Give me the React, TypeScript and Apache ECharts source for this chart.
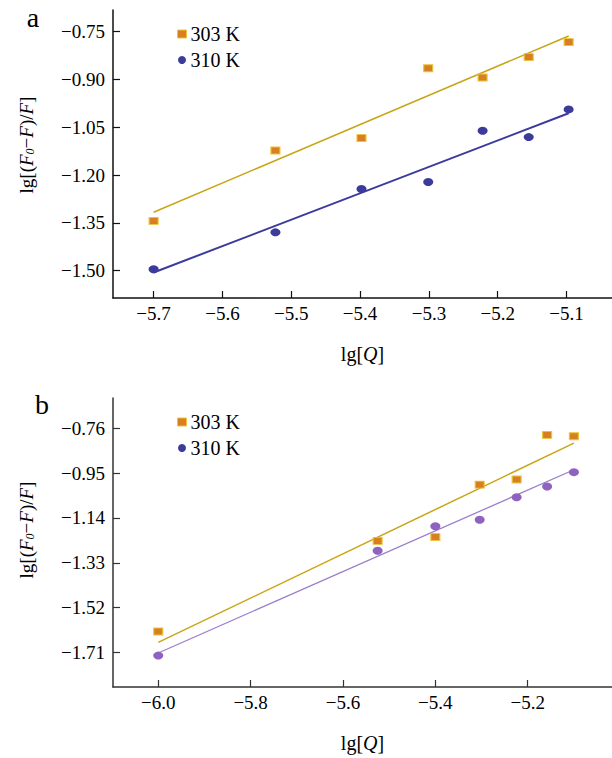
import React, { useEffect, useRef } from "react";
import * as echarts from "echarts";

// ---------- data ----------
const xA = [-5.7, -5.523, -5.398, -5.301, -5.222, -5.155, -5.097];
const yA303 = [-1.344, -1.123, -1.084, -0.865, -0.894, -0.83, -0.783];
const yA310 = [-1.496, -1.38, -1.244, -1.222, -1.061, -1.081, -0.994];
const fitA303 = [[-5.7, -1.317], [-5.097, -0.7635]];
const fitA310 = [[-5.7, -1.506], [-5.097, -1.006]];

const xB = [-6.0, -5.525, -5.4, -5.304, -5.224, -5.158, -5.1];
const yB303 = [-1.621, -1.237, -1.221, -0.999, -0.977, -0.788, -0.794];
const yB310 = [-1.723, -1.279, -1.175, -1.148, -1.052, -1.007, -0.946];
const fitB303 = [[-6.0, -1.667], [-5.1, -0.823]];
const fitB310 = [[-6.0, -1.712], [-5.1, -0.936]];

const xTicksA = [-5.7, -5.6, -5.5, -5.4, -5.3, -5.2, -5.1];
const yTicksA = [-0.75, -0.9, -1.05, -1.2, -1.35, -1.5];
const xTicksB = [-6.0, -5.8, -5.6, -5.4, -5.2];
const yTicksB = [-0.76, -0.95, -1.14, -1.33, -1.52, -1.71];

const legendNames = ["303 K", "310 K"];

const FONT = "'Liberation Serif', 'Times New Roman', serif";
const ORANGE = "#d8801f";
const ORANGE_BORDER = "#ecc33c";
const GOLD = "#c9a515";
const NAVY = "#3b3b9c";
const PURPLE = "#8f62c0";
const PURPLE_LINE = "#9c7fcc";

const zip = (xs: number[], ys: number[]) => xs.map((x, i) => [x, ys[i]]);
const fmt = (d: number) => (v: number) => (v < 0 ? "\u2212" : "") + Math.abs(v).toFixed(d);

function App() {
  const ref = useRef<HTMLDivElement>(null);
  useEffect(() => {
    if (!ref.current) return;
    const chart = echarts.init(ref.current, null, { renderer: "svg" });

    const xAxisBase = (axisColor: string, ticks: number[], dec: number) => ({
      type: "value" as const,
      nameLocation: "middle" as const,
      nameGap: 46,
      name: "lg[{q|Q}]",
      nameTextStyle: {
        fontFamily: FONT,
        fontSize: 20,
        color: "#000",
        rich: { q: { fontFamily: FONT, fontSize: 20, fontStyle: "italic", color: "#000" } },
      },
      splitLine: { show: false },
      axisLine: { show: true, onZero: false, lineStyle: { color: axisColor, width: 1.5 } },
      axisTick: { show: true, inside: true, length: 7, customValues: ticks, lineStyle: { color: axisColor, width: 1.2 } },
      axisLabel: {
        customValues: ticks,
        formatter: fmt(dec),
        fontFamily: FONT,
        fontSize: 19,
        color: "#000",
        margin: 6,
      },
    });

    const yAxisBase = (axisColor: string, ticks: number[]) => ({
      type: "value" as const,
      splitLine: { show: false },
      axisLine: { show: true, onZero: false, lineStyle: { color: axisColor, width: 1.5 } },
      axisTick: { show: true, inside: true, length: 7, customValues: ticks, lineStyle: { color: axisColor, width: 1.2 } },
      axisLabel: {
        customValues: ticks,
        formatter: fmt(2),
        fontFamily: FONT,
        fontSize: 19,
        color: "#000",
        margin: 8,
      },
    });

    const scatter = (name: string, idx: number, data: number[][], symbol: string, size: number[], color: string, border?: string) => ({
      name,
      type: "scatter" as const,
      xAxisIndex: idx,
      yAxisIndex: idx,
      data,
      symbol,
      symbolSize: size,
      z: 3,
      itemStyle: { color, borderColor: border || color, borderWidth: border ? 1 : 0, opacity: 1 },
    });

    const fitLine = (name: string, idx: number, data: number[][], color: string, width: number) => ({
      name,
      type: "line" as const,
      xAxisIndex: idx,
      yAxisIndex: idx,
      data,
      symbol: "none",
      showSymbol: false,
      z: 2,
      lineStyle: { color, width },
    });

    const yTitle = (x: number, y: number) => ({
      type: "text",
      x,
      y,
      rotation: Math.PI / 2,
      style: {
        text: "lg[({i|F}{s|0}\u2212{i|F})/{i|F}]",
        fontFamily: FONT,
        fontSize: 19,
        fill: "#000",
        align: "center",
        verticalAlign: "middle",
        rich: {
          i: { fontFamily: FONT, fontSize: 19, fontStyle: "italic", fill: "#000" },
          s: { fontFamily: FONT, fontSize: 12, fontStyle: "italic", fill: "#000", verticalAlign: "bottom", padding: [8, 0, 0, 0] },
        },
      },
    });

    const legend = (top: number, circleColor: string) => ({
      orient: "vertical" as const,
      left: 177,
      top,
      padding: 0,
      itemWidth: 9,
      itemHeight: 8,
      itemGap: 6,
      textStyle: { fontFamily: FONT, fontSize: 20, color: "#000", padding: [0, 0, 0, -1] },
      selectedMode: false,
      data: [
        { name: legendNames[0], icon: "rect", itemStyle: { color: ORANGE, borderColor: ORANGE_BORDER, borderWidth: 1 } },
        { name: legendNames[1], icon: "circle", itemStyle: { color: circleColor, borderWidth: 0 } },
      ],
    });

    chart.setOption({
      animation: false,
      backgroundColor: "#fff",
      grid: [
        { left: 113, right: 0, top: 10, height: 288 },
        { left: 113, right: 0, top: 398, height: 289 },
      ],
      xAxis: [
        { ...xAxisBase("#111", xTicksA, 1), gridIndex: 0, min: -5.759, max: -5.034 },
        { ...xAxisBase("#333", xTicksB, 1), gridIndex: 1, min: -6.098, max: -5.0175 },
      ],
      yAxis: [
        { ...yAxisBase("#111", yTicksA), gridIndex: 0, min: -1.586, max: -0.682 },
        { ...yAxisBase("#333", yTicksB), gridIndex: 1, min: -1.856, max: -0.632 },
      ],
      legend: [legend(24, NAVY), legend(412, NAVY)],
      series: [
        fitLine("303 K fit a", 0, fitA303, GOLD, 1.5),
        fitLine("310 K fit a", 0, fitA310, NAVY, 2),
        scatter(legendNames[0], 0, zip(xA, yA303), "rect", [9, 7], ORANGE, ORANGE_BORDER),
        scatter(legendNames[1], 0, zip(xA, yA310), "circle", [10, 8], NAVY),
        fitLine("303 K fit b", 1, fitB303, GOLD, 1.5),
        fitLine("310 K fit b", 1, fitB310, PURPLE_LINE, 1.3),
        scatter(legendNames[0], 1, zip(xB, yB303), "rect", [9, 7], ORANGE, ORANGE_BORDER),
        scatter(legendNames[1], 1, zip(xB, yB310), "circle", [10, 8], PURPLE),
      ],
      graphic: [
        { type: "text", x: 33, y: 17, style: { text: "a", fontFamily: FONT, fontSize: 28, fill: "#000", align: "center", verticalAlign: "middle" } },
        { type: "text", x: 42, y: 404, style: { text: "b", fontFamily: FONT, fontSize: 28, fill: "#000", align: "center", verticalAlign: "middle" } },
        yTitle(26, 145),
        yTitle(26, 530),
      ],
    });
    return () => chart.dispose();
  }, []);
  return <div ref={ref} style={{ position: "fixed", left: 0, top: 0, width: 612, height: 758 }} />;
}

export default App;
